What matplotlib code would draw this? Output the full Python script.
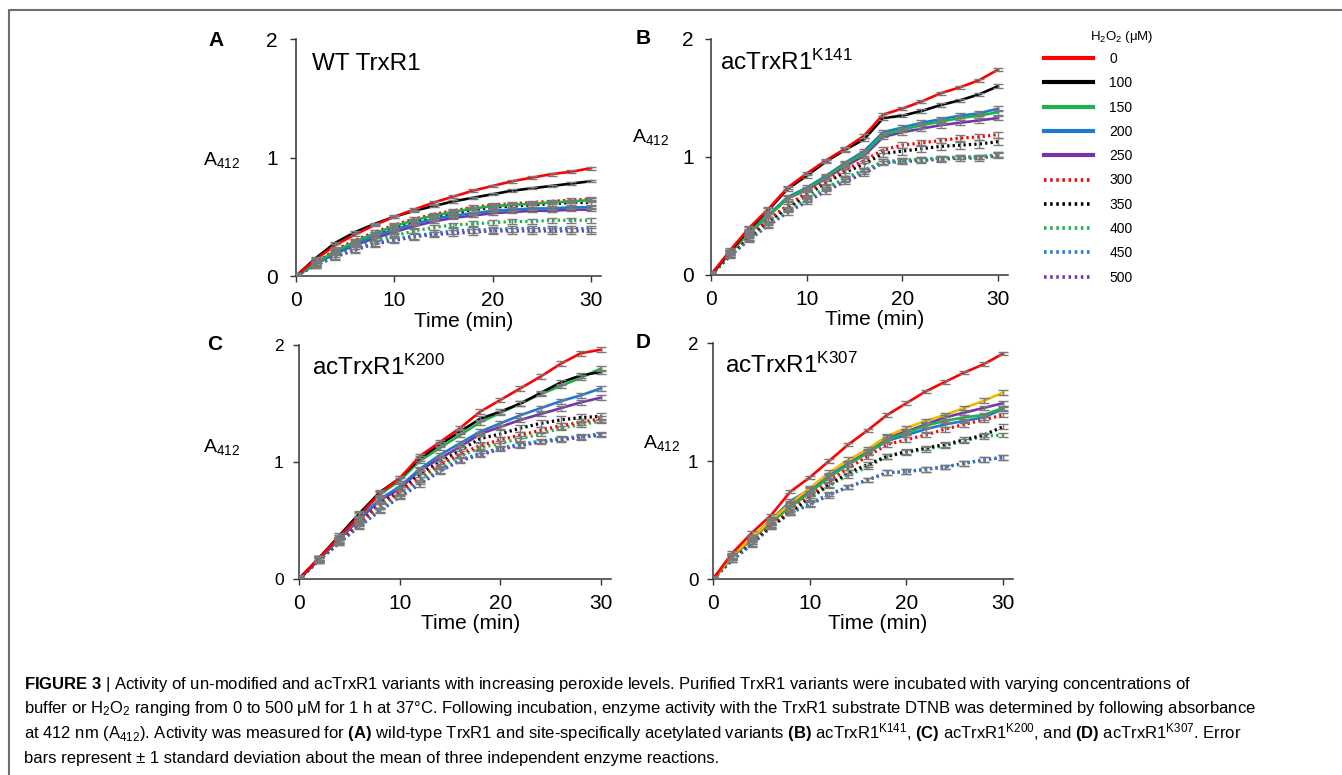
import matplotlib
matplotlib.use("Agg")
import matplotlib.pyplot as plt
from matplotlib.lines import Line2D

plt.rcParams['font.family'] = ['Liberation Sans', 'DejaVu Sans']
plt.rcParams['mathtext.fontset'] = 'custom'
plt.rcParams['mathtext.rm'] = 'Liberation Sans'
plt.rcParams['mathtext.it'] = 'Liberation Sans:italic'
plt.rcParams['mathtext.bf'] = 'Liberation Sans:bold'

# 時間 (min)
time = [0, 2, 4, 6, 8, 10, 12, 14, 16, 18, 20, 22, 24, 26, 28, 30]
# H2O2 (uM)
h2o2 = ['0', '100', '150', '200', '250', '300', '350', '400', '450', '500']

# A412, one row per H2O2 level
wt = [
    [0, 0.14, 0.26, 0.35, 0.43, 0.50, 0.56, 0.62, 0.67, 0.72, 0.76, 0.80, 0.83, 0.86, 0.88, 0.91],
    [0, 0.15, 0.28, 0.37, 0.44, 0.50, 0.55, 0.59, 0.63, 0.66, 0.69, 0.72, 0.74, 0.76, 0.78, 0.80],
    [0, 0.11, 0.21, 0.29, 0.36, 0.42, 0.47, 0.51, 0.54, 0.57, 0.59, 0.60, 0.61, 0.62, 0.63, 0.64],
    [0, 0.10, 0.20, 0.27, 0.34, 0.39, 0.44, 0.48, 0.51, 0.53, 0.55, 0.56, 0.57, 0.57, 0.58, 0.58],
    [0, 0.10, 0.19, 0.26, 0.32, 0.37, 0.42, 0.46, 0.49, 0.51, 0.53, 0.54, 0.55, 0.55, 0.56, 0.56],
    [0, 0.11, 0.22, 0.30, 0.37, 0.43, 0.48, 0.52, 0.55, 0.58, 0.60, 0.61, 0.62, 0.63, 0.64, 0.65],
    [0, 0.11, 0.21, 0.29, 0.35, 0.41, 0.46, 0.50, 0.53, 0.56, 0.58, 0.59, 0.60, 0.61, 0.62, 0.62],
    [0, 0.10, 0.18, 0.25, 0.30, 0.34, 0.38, 0.41, 0.43, 0.44, 0.45, 0.46, 0.46, 0.47, 0.47, 0.47],
    [0, 0.09, 0.17, 0.23, 0.28, 0.31, 0.34, 0.36, 0.38, 0.39, 0.39, 0.40, 0.40, 0.40, 0.40, 0.40],
    [0, 0.09, 0.16, 0.22, 0.27, 0.30, 0.33, 0.35, 0.36, 0.37, 0.38, 0.38, 0.38, 0.38, 0.38, 0.38],
]
k141 = [
    [0, 0.21, 0.40, 0.56, 0.74, 0.86, 0.97, 1.07, 1.18, 1.36, 1.41, 1.47, 1.54, 1.59, 1.65, 1.74],
    [0, 0.20, 0.39, 0.55, 0.73, 0.84, 0.96, 1.06, 1.15, 1.33, 1.35, 1.39, 1.44, 1.48, 1.53, 1.60],
    [0, 0.19, 0.36, 0.50, 0.65, 0.73, 0.83, 0.94, 1.03, 1.19, 1.23, 1.27, 1.30, 1.33, 1.35, 1.38],
    [0, 0.19, 0.37, 0.51, 0.66, 0.74, 0.84, 0.95, 1.05, 1.21, 1.25, 1.29, 1.32, 1.35, 1.37, 1.41],
    [0, 0.19, 0.36, 0.50, 0.65, 0.72, 0.82, 0.92, 1.01, 1.17, 1.21, 1.24, 1.27, 1.29, 1.31, 1.33],
    [0, 0.18, 0.34, 0.47, 0.59, 0.70, 0.80, 0.89, 0.97, 1.06, 1.10, 1.12, 1.14, 1.16, 1.17, 1.19],
    [0, 0.18, 0.33, 0.46, 0.57, 0.68, 0.78, 0.87, 0.94, 1.03, 1.05, 1.07, 1.09, 1.10, 1.11, 1.13],
    [0, 0.17, 0.32, 0.44, 0.56, 0.65, 0.74, 0.82, 0.89, 0.96, 0.97, 0.98, 0.99, 1.00, 1.00, 1.02],
    [0, 0.17, 0.31, 0.43, 0.55, 0.64, 0.73, 0.81, 0.88, 0.96, 0.97, 0.98, 0.99, 1.00, 1.00, 1.02],
    [0, 0.16, 0.30, 0.42, 0.53, 0.62, 0.71, 0.79, 0.86, 0.95, 0.96, 0.97, 0.98, 0.99, 0.99, 1.01],
]
k200 = [
    [0, 0.18, 0.36, 0.54, 0.73, 0.86, 1.05, 1.17, 1.29, 1.43, 1.53, 1.63, 1.73, 1.84, 1.93, 1.96],
    [0, 0.18, 0.37, 0.56, 0.74, 0.86, 1.03, 1.15, 1.26, 1.37, 1.43, 1.50, 1.59, 1.68, 1.74, 1.77],
    [0, 0.18, 0.36, 0.55, 0.72, 0.84, 1.01, 1.12, 1.23, 1.34, 1.42, 1.50, 1.58, 1.65, 1.72, 1.80],
    [0, 0.17, 0.34, 0.52, 0.68, 0.79, 0.94, 1.06, 1.16, 1.26, 1.33, 1.40, 1.46, 1.52, 1.57, 1.63],
    [0, 0.17, 0.34, 0.51, 0.67, 0.77, 0.93, 1.03, 1.13, 1.24, 1.30, 1.36, 1.41, 1.46, 1.51, 1.55],
    [0, 0.17, 0.33, 0.48, 0.63, 0.74, 0.87, 0.98, 1.07, 1.14, 1.19, 1.23, 1.27, 1.31, 1.34, 1.37],
    [0, 0.17, 0.33, 0.49, 0.64, 0.76, 0.90, 1.00, 1.10, 1.20, 1.24, 1.29, 1.33, 1.36, 1.38, 1.39],
    [0, 0.17, 0.33, 0.48, 0.62, 0.73, 0.85, 0.96, 1.05, 1.12, 1.16, 1.20, 1.24, 1.29, 1.32, 1.35],
    [0, 0.16, 0.31, 0.46, 0.59, 0.71, 0.83, 0.93, 1.02, 1.07, 1.12, 1.15, 1.18, 1.20, 1.22, 1.24],
    [0, 0.16, 0.31, 0.45, 0.58, 0.70, 0.81, 0.92, 1.01, 1.06, 1.11, 1.14, 1.17, 1.19, 1.21, 1.23],
]
k307 = [
    [0, 0.22, 0.39, 0.54, 0.74, 0.86, 1.00, 1.14, 1.26, 1.39, 1.49, 1.59, 1.67, 1.75, 1.82, 1.91],
    [0, 0.20, 0.35, 0.50, 0.64, 0.77, 0.90, 1.01, 1.10, 1.21, 1.28, 1.34, 1.39, 1.45, 1.51, 1.58],
    [0, 0.19, 0.34, 0.48, 0.61, 0.73, 0.86, 0.97, 1.07, 1.18, 1.24, 1.30, 1.34, 1.37, 1.39, 1.45],
    [0, 0.19, 0.35, 0.50, 0.66, 0.76, 0.88, 0.98, 1.07, 1.17, 1.22, 1.27, 1.31, 1.34, 1.37, 1.44],
    [0, 0.19, 0.34, 0.49, 0.63, 0.75, 0.87, 0.98, 1.08, 1.20, 1.25, 1.31, 1.37, 1.41, 1.45, 1.49],
    [0, 0.18, 0.33, 0.46, 0.59, 0.71, 0.83, 0.94, 1.04, 1.14, 1.18, 1.22, 1.27, 1.31, 1.35, 1.39],
    [0, 0.18, 0.32, 0.45, 0.57, 0.69, 0.80, 0.90, 0.97, 1.04, 1.08, 1.11, 1.14, 1.18, 1.22, 1.29],
    [0, 0.18, 0.32, 0.45, 0.57, 0.68, 0.79, 0.88, 0.95, 1.04, 1.07, 1.10, 1.13, 1.17, 1.21, 1.22],
    [0, 0.16, 0.30, 0.44, 0.56, 0.64, 0.72, 0.78, 0.84, 0.90, 0.91, 0.93, 0.95, 0.98, 1.01, 1.03],
    [0, 0.16, 0.29, 0.44, 0.56, 0.63, 0.71, 0.78, 0.84, 0.90, 0.91, 0.93, 0.95, 0.98, 1.01, 1.03],
]

# SD
wt_err = [0.012, 0.01, 0.015, 0.012, 0.012, 0.015, 0.02, 0.02, 0.025, 0.025]
k141_err = [0.015, 0.015, 0.02, 0.02, 0.02, 0.025, 0.03, 0.02, 0.02, 0.02]
k200_err = [0.02, 0.02, 0.02, 0.02, 0.02, 0.025, 0.03, 0.02, 0.02, 0.02]
k307_err = [0.015, 0.02, 0.02, 0.02, 0.02, 0.02, 0.02, 0.02, 0.02, 0.02]

colors = ['#ff0000', '#000000', '#1db34a', '#1f78d1', '#7535a8',
          '#ff0000', '#000000', '#1db34a', '#1f78d1', '#7535a8']
dotted = (0, (0.7, 1.0))
styles = ['-'] * 5 + [dotted] * 5

W, H = 1342, 775
fig = plt.figure(figsize=(W / 100, H / 100), dpi=100)

# 面板: (資料, 誤差, 左, 右(x=31), y0, y2 in px)
panels = [
    ('A', wt, wt_err, 'WT TrxR1', 296, 600.8, 276, 39, 15, 8.5),
    ('B', k141, k141_err, 'acTrxR1$^{\\mathrm{K141}}$', 711, 1007.6, 275, 39, 15, 8),
    ('C', k200, k200_err, 'acTrxR1$^{\\mathrm{K200}}$', 299, 611.1, 579, 345, 12.5, 6.5),
    ('D', k307, k307_err, 'acTrxR1$^{\\mathrm{K307}}$', 713, 1012.7, 579, 343, 13.5, 6),
]
ylab_pos = {'A': (-0.243, 0.49), 'B': (-0.205, 0.585), 'C': (-0.247, 0.565), 'D': (-0.173, 0.575)}
letter_pos = {'A': (216, 40), 'B': (643, 38), 'C': (215, 345), 'D': (643, 342)}
title_pos = {'A': (0.052, 0.895), 'B': (0.03, 0.90), 'C': (0.042, 0.906), 'D': (0.04, 0.907)}

for name, data, err, title, x0, x1, y0, y2, ytick_fs, ypad in panels:
    ax = fig.add_axes([x0 / W, 1 - y0 / H, (x1 - x0) / W, (y0 - y2) / H])
    cols = list(colors)
    if name == 'D':
        cols[1] = '#f5b800'
    for i in range(9, -1, -1):
        ax.errorbar(time, data[i], yerr=err[i], fmt='none', ecolor='#7a7a7a',
                    elinewidth=1, capsize=3.5, capthick=1, zorder=3 + i * 0.01)
        ax.plot(time, data[i], color=cols[i], linestyle=styles[i],
                lw=1.9 if i < 5 else 2.3, zorder=2 + (9 - i) * 0.01)
    ax.set_xlim(0, 31)
    ax.set_ylim(0, 2)
    ax.set_xticks([0, 10, 20, 30])
    ax.set_yticks([0, 1, 2])
    ax.spines['top'].set_visible(False)
    ax.spines['right'].set_visible(False)
    for s in ['left', 'bottom']:
        ax.spines[s].set_linewidth(1.1)
        ax.spines[s].set_color('#333333')
    ax.tick_params(axis='both', direction='out', length=4.5, width=1, color='#333333')
    ax.tick_params(axis='x', labelsize=15, pad=6)
    ax.tick_params(axis='y', labelsize=ytick_fs, pad=ypad)
    ax.set_xlabel('Time (min)', fontsize=15)
    ax.xaxis.set_label_coords(0.55, -0.15)
    ax.set_ylabel('A$_{412}$', fontsize=14, rotation=0, ha='center', va='center')
    ax.yaxis.set_label_coords(*ylab_pos[name])
    ax.text(*title_pos[name], title, transform=ax.transAxes, fontsize=17.5,
            ha='left', va='center')
    lx, ly = letter_pos[name]
    fig.text(lx / W, 1 - ly / H, name, fontsize=15, fontweight='bold', ha='center', va='center')

# 圖例
handles = [Line2D([], [], color=colors[i], linestyle=styles[i], lw=3 if i < 5 else 2.6)
           for i in range(10)]
fig.text(1122 / W, 1 - 37 / H, 'H$_2$O$_2$ (μM)', fontsize=9.5, ha='center', va='center')
fig.legend(handles, h2o2, loc='upper left', bbox_to_anchor=(1044 / W, 1 - 52 / H),
           frameon=False, fontsize=10, handlelength=3.5, handletextpad=1.2,
           labelspacing=0.74, borderpad=0, borderaxespad=0)

# 外框
fig.add_artist(Line2D([9 / W, 9 / W, 1], [0, 1 - 10 / H, 1 - 10 / H],
                      transform=fig.transFigure, color='#6e6e6e', lw=1.5))

# 圖說
caption = [
    '$\\mathbf{FIGURE\\ 3}$ | Activity of un-modified and acTrxR1 variants with increasing peroxide levels. '
    'Purified TrxR1 variants were incubated with varying concentrations of',
    'buffer or H$_2$O$_2$ ranging from 0 to 500 μM for 1 h at 37°C. Following incubation, enzyme activity '
    'with the TrxR1 substrate DTNB was determined by following absorbance',
    'at 412 nm (A$_{412}$). Activity was measured for $\\mathbf{(A)}$ wild-type TrxR1 and site-specifically '
    'acetylated variants $\\mathbf{(B)}$ acTrxR1$^{\\mathrm{K141}}$, $\\mathbf{(C)}$ acTrxR1$^{\\mathrm{K200}}$, '
    'and $\\mathbf{(D)}$ acTrxR1$^{\\mathrm{K307}}$. Error',
    'bars represent ± 1 standard deviation about the mean of three independent enzyme reactions.',
]
cap_y = [684, 709, 733, 758]
for line, y in zip(caption, cap_y):
    fig.text(24 / W, 1 - y / H, line, fontsize=12, ha='left', va='center')

fig.savefig('out.png', dpi=100)
